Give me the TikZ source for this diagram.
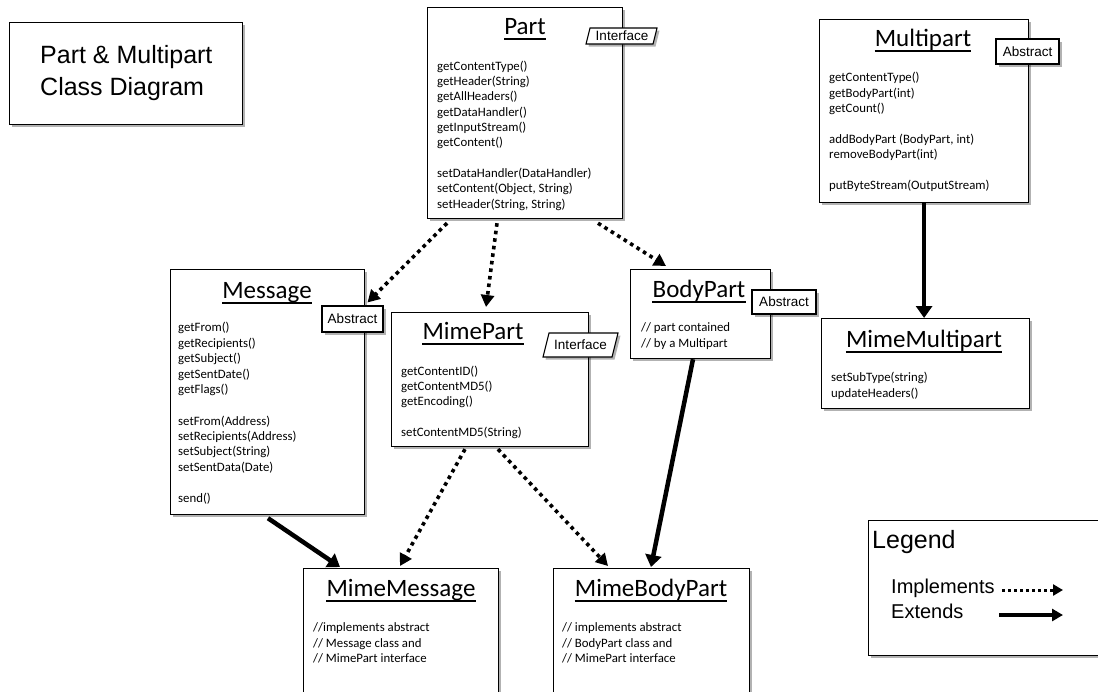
\documentclass[tikz,border=0pt]{standalone}
\usepackage{fontspec}
\setmainfont{Carlito}
\newfontfamily\arialf{Liberation Sans}
\usetikzlibrary{arrows.meta,shadows}
\begin{document}
\begin{tikzpicture}[x=1pt,y=-1pt,
  shd/.style={drop shadow={shadow xshift=2.5pt,shadow yshift=-2.5pt,opacity=0.3,fill=black}},
  box/.style={draw=black,line width=1.2pt,fill=white,anchor=north west,inner sep=0pt,shd},
  ttl/.style={font=\fontsize{25}{30}\selectfont,anchor=base,inner sep=0pt},
  meth/.style={font=\fontsize{12.8}{15}\selectfont,anchor=base west,inner sep=0pt},
  tagbox/.style={draw=black,line width=1.1pt,fill=white,inner sep=0pt,shd,font=\arialf\fontsize{13.5}{16}\selectfont},
  tagtext/.style={inner sep=0pt,font=\arialf\fontsize{13.5}{16}\selectfont},
  big/.style={inner sep=0pt,anchor=base west,font=\arialf\fontsize{25}{30}\selectfont},
  leg/.style={inner sep=0pt,anchor=base west,font=\arialf\fontsize{20}{24}\selectfont},
  uline/.style={line width=2pt},
  impl/.style={line width=3.6pt,dash pattern=on 3.6pt off 4pt,-{Triangle[length=12pt,width=13pt]}},
  ext/.style={line width=4.5pt,-{Triangle[length=12pt,width=16pt]}},
  limpl/.style={line width=3pt,dash pattern=on 3pt off 3pt,-{Triangle[length=10pt,width=11pt]}},
  lext/.style={line width=3.6pt,-{Triangle[length=11pt,width=12pt]}}
]
\useasboundingbox (0,0) rectangle (1098,691);
\clip (0,0) rectangle (1098,691);

% title box
\node[box,minimum width=233pt,minimum height=102pt] (Title) at (9,22) {};
\node[big] (T1) at (40,63) {Part \& Multipart};
\node[big] (T2) at (40,95) {Class Diagram};

% class boxes
\node[box,minimum width=195pt,minimum height=211pt] (Part) at (427,7) {};
\node[box,minimum width=209pt,minimum height=183pt] (Multipart) at (819,19) {};
\node[box,minimum width=194pt,minimum height=245pt] (Message) at (170,269) {};
\node[box,minimum width=197pt,minimum height=134pt] (MimePart) at (391,312) {};
\node[box,minimum width=140pt,minimum height=89pt] (BodyPart) at (630,269) {};
\node[box,minimum width=208pt,minimum height=90pt] (MimeMultipart) at (821,318) {};
\node[box,minimum width=195pt,minimum height=140pt] (MimeMessage) at (303,568) {};
\node[box,minimum width=196pt,minimum height=140pt] (MimeBodyPart) at (553,568) {};
\node[box,minimum width=250pt,minimum height=135pt] (Legend) at (868,520) {};

% titles
\node[ttl] (tPart) at (525,34) {Part};
\node[ttl] (tMultipart) at (923,46) {Multipart};
\node[ttl] (tMessage) at (267,298) {Message};
\node[ttl] (tMimePart) at (473,339) {MimePart};
\node[ttl] (tBodyPart) at (699,297) {BodyPart};
\node[ttl] (tMimeMultipart) at (924,347) {MimeMultipart};
\node[ttl] (tMimeMessage) at (401,596) {MimeMessage};
\node[ttl] (tMimeBodyPart) at (651,596) {MimeBodyPart};
\foreach \n in {tPart,tMultipart,tMessage,tMimePart,tBodyPart,tMimeMultipart,tMimeMessage,tMimeBodyPart}
  \draw[uline] ([yshift=-5pt]\n.base west) -- ([yshift=-5pt]\n.base east);

% tags
\path[tagbox] (586,44) -- (653,44) -- (657,28) -- (590,28) -- cycle;
\node[tagtext] (PartTag) at (622,36) {Interface};
\path[tagbox] (543,357) -- (612,357) -- (618,333) -- (549,333) -- cycle;
\node[tagtext] (MimePartTag) at (580.5,345) {Interface};
\node[tagbox,minimum width=61pt,minimum height=26pt] (MsgTag) at (352.5,319) {Abstract};
\node[tagbox,minimum width=63pt,minimum height=25pt] (MultiTag) at (1027.5,51.5) {Abstract};
\node[tagbox,minimum width=64pt,minimum height=24pt] (BodyTag) at (784,302) {Abstract};

% methods: Part
\foreach \t [count=\i from 0] in {getContentType(),getHeader(String),getAllHeaders(),getDataHandler(),getInputStream(),getContent()}
  \node[meth] (pa\i) at (437,70.2+15.3*\i) {\t};
\foreach \t [count=\i from 0] in {setDataHandler(DataHandler),{setContent(Object, String)},{setHeader(String, String)}}
  \node[meth] (pb\i) at (437,177.5+15.3*\i) {\t};
% Multipart
\foreach \t [count=\i from 0] in {getContentType(),getBodyPart(int),getCount()}
  \node[meth] (ma\i) at (829,81.5+15.5*\i) {\t};
\node[meth] (mb0) at (829,143.5) {addBodyPart (BodyPart, int)};
\node[meth] (mb1) at (829,158.5) {removeBodyPart(int)};
\node[meth] (mc0) at (829,189.5) {putByteStream(OutputStream)};
% Message
\foreach \t [count=\i from 0] in {getFrom(),getRecipients(),getSubject(),getSentDate(),getFlags()}
  \node[meth] (ga\i) at (178,331.5+15.6*\i) {\t};
\foreach \t [count=\i from 0] in {setFrom(Address),setRecipients(Address),setSubject(String),setSentData(Date)}
  \node[meth] (gb\i) at (178,425.5+15.2*\i) {\t};
\node[meth] (gc0) at (178,502.5) {send()};
% MimePart
\foreach \t [count=\i from 0] in {getContentID(),getContentMD5(),getEncoding()}
  \node[meth] (ia\i) at (401,375.5+15*\i) {\t};
\node[meth] (ib0) at (401,436.5) {setContentMD5(String)};
% BodyPart
\node[meth] (ba0) at (641,331.5) {// part contained};
\node[meth] (ba1) at (641,347.5) {// by a Multipart};
% MimeMultipart
\node[meth] (ua0) at (831,381.5) {setSubType(string)};
\node[meth] (ua1) at (831,397.5) {updateHeaders()};
% MimeMessage
\node[meth] (ea0) at (313,631.5) {//implements abstract};
\node[meth] (ea1) at (313,647) {// Message class and};
\node[meth] (ea2) at (313,662.5) {// MimePart interface};
% MimeBodyPart
\node[meth] (fa0) at (562,631.5) {// implements abstract};
\node[meth] (fa1) at (562,647) {// BodyPart class and};
\node[meth] (fa2) at (562,662.5) {// MimePart interface};

% legend
\node[big] (LegT) at (872,548) {Legend};
\node[leg] (LegI) at (891,593) {Implements};
\node[leg] (LegE) at (891,618) {Extends};
\coordinate (li1) at (1002,590);
\coordinate (li2) at (1063,590);
\coordinate (le1) at (999,615);
\coordinate (le2) at (1063,615);
\draw[limpl] (li1) -- (li2);
\draw[lext] (le1) -- (le2);

% connectors
\draw[impl] ([xshift=20pt,yshift=-4pt]Part.south west) -- ([xshift=15pt,yshift=3pt]MsgTag.north);
\draw[impl] ([xshift=70pt,yshift=-4pt]Part.south west) -- ([xshift=95pt,yshift=5pt]MimePart.north west);
\draw[impl] ([xshift=171pt,yshift=-4pt]Part.south west) -- ([xshift=36pt,yshift=3pt]BodyPart.north west);
\draw[ext] ([xshift=98pt,yshift=-3pt]Message.south west) -- ([xshift=37pt,yshift=1pt]MimeMessage.north west);
\draw[impl] ([xshift=74pt,yshift=-2pt]MimePart.south west) -- ([xshift=97pt,yshift=2pt]MimeMessage.north west);
\draw[impl] ([xshift=107pt,yshift=-2pt]MimePart.south west) -- ([xshift=55pt,yshift=2pt]MimeBodyPart.north west);
\draw[ext] ([xshift=63pt]BodyPart.south west) -- ([xshift=98pt,yshift=1pt]MimeBodyPart.north west);
\draw[ext] (Multipart.south) -- (Multipart.south |- MimeMultipart.north);
\end{tikzpicture}
\end{document}
